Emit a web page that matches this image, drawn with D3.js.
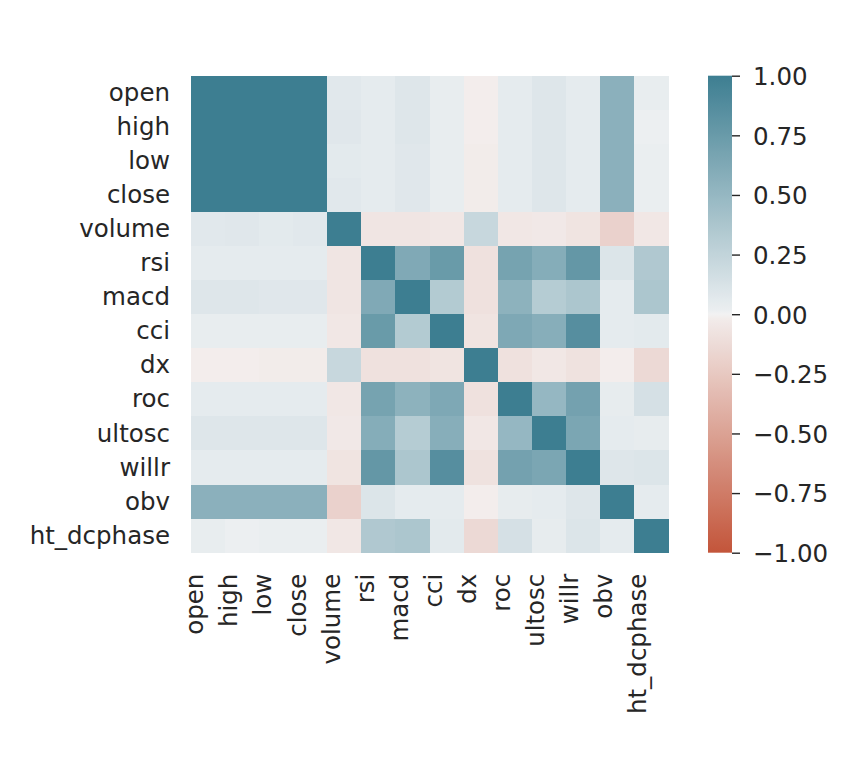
<!DOCTYPE html>
<html>
<head>
<meta charset="utf-8">
<script src="https://cdn.jsdelivr.net/npm/d3@7"></script>
<style>
body{margin:0;background:#fff;}
text{font-family:"DejaVu Sans",sans-serif;fill:#262626;}
</style>
</head>
<body>
<div id="heatmap"></div>
<script>
const labels = ["open","high","low","close","volume","rsi","macd","cci","dx","roc","ultosc","willr","obv","ht_dcphase"];

// correlation matrix, one row per label
const corr = [
[1.00,1.00,1.00,1.00,0.07,0.05,0.09,0.03,-0.01,0.05,0.09,0.05,0.56,0.03],
[1.00,1.00,1.00,1.00,0.08,0.05,0.09,0.03,-0.01,0.05,0.09,0.05,0.56,0.01],
[1.00,1.00,1.00,1.00,0.06,0.05,0.08,0.03,-0.02,0.05,0.09,0.05,0.56,0.02],
[1.00,1.00,1.00,1.00,0.07,0.05,0.08,0.03,-0.02,0.05,0.09,0.05,0.56,0.02],
[0.07,0.08,0.06,0.07,1.00,-0.06,-0.06,-0.05,0.22,-0.05,-0.04,-0.07,-0.19,-0.05],
[0.05,0.05,0.05,0.05,-0.06,1.00,0.62,0.75,-0.09,0.68,0.59,0.78,0.10,0.35],
[0.09,0.09,0.08,0.08,-0.06,0.62,1.00,0.33,-0.09,0.55,0.32,0.37,0.05,0.37],
[0.03,0.03,0.03,0.03,-0.05,0.75,0.33,1.00,-0.07,0.63,0.58,0.86,0.05,0.06],
[-0.01,-0.01,-0.02,-0.02,0.22,-0.09,-0.09,-0.07,1.00,-0.09,-0.05,-0.08,-0.01,-0.14],
[0.05,0.05,0.05,0.05,-0.05,0.68,0.55,0.63,-0.09,1.00,0.50,0.69,0.04,0.14],
[0.09,0.09,0.09,0.09,-0.04,0.59,0.32,0.58,-0.05,0.50,1.00,0.65,0.05,0.04],
[0.05,0.05,0.05,0.05,-0.07,0.78,0.37,0.86,-0.08,0.69,0.65,1.00,0.09,0.10],
[0.56,0.56,0.56,0.56,-0.19,0.10,0.05,0.05,-0.01,0.04,0.05,0.09,1.00,0.05],
[0.03,0.01,0.02,0.02,-0.05,0.35,0.37,0.06,-0.14,0.14,0.04,0.10,0.05,1.00]
];

const cbarTicks = [1.00,0.75,0.50,0.25,0.00,-0.25,-0.50,-0.75,-1.00];

const width=858, height=758;
const marginLeft=191, marginTop=75.7, size=477;

const svg = d3.select("#heatmap")
.append("svg")
.attr("width",width)
.attr("height",height);

// diverging colour scale (teal positive, red negative)
const color = d3.scaleLinear()
.domain([-1,-0.004,0,0.004,1])
.range(["#c3553a","#f3eeed","#f2f2f2","#edf0f2","#3d7e91"])
.interpolate(d3.interpolateRgb)
.clamp(true);

const x = d3.scaleBand()
.domain(labels)
.range([marginLeft,marginLeft+size]);

const y = d3.scaleBand()
.domain(labels)
.range([marginTop,marginTop+size]);

const cells=[];
corr.forEach((row,i)=>{
row.forEach((v,j)=>{
cells.push({r:labels[i],c:labels[j],v});
});
});

// CELDAS
svg.append("g")
.attr("shape-rendering","crispEdges")
.selectAll("rect")
.data(cells)
.enter()
.append("rect")
.attr("x",d=>x(d.c))
.attr("y",d=>y(d.r))
.attr("width",x.bandwidth()+0.5)
.attr("height",y.bandwidth()+0.5)
.attr("fill",d=>color(d.v));

// ETIQUETAS Y
svg.append("g")
.selectAll("text")
.data(labels)
.enter()
.append("text")
.attr("x",marginLeft-21)
.attr("y",d=>y(d)+y.bandwidth()/2)
.attr("dy","0.33em")
.attr("text-anchor","end")
.style("font-size","24.5px")
.text(d=>d);

// ETIQUETAS X
svg.append("g")
.selectAll("text")
.data(labels)
.enter()
.append("text")
.attr("transform",d=>`translate(${x(d)+x.bandwidth()/2},${marginTop+size+21}) rotate(-90)`)
.attr("dy",-4.7)
.attr("text-anchor","end")
.style("font-size","24.5px")
.text(d=>d);

// BARRA DE COLOR
const cbX=708, cbW=24;
const cy = d3.scaleLinear()
.domain([-1,1])
.range([marginTop+size,marginTop]);

const grad = svg.append("defs")
.append("linearGradient")
.attr("id","cbar")
.attr("x1","0").attr("y1","1")
.attr("x2","0").attr("y2","0");

grad.selectAll("stop")
.data(d3.range(0,1.0001,0.01))
.enter()
.append("stop")
.attr("offset",d=>d)
.attr("stop-color",d=>color(d*2-1));

svg.append("rect")
.attr("x",cbX)
.attr("y",marginTop)
.attr("width",cbW)
.attr("height",size)
.attr("fill","url(#cbar)");

const axis = svg.append("g")
.attr("transform",`translate(${cbX+cbW},0)`)
.call(
d3.axisRight(cy)
.tickValues(cbarTicks)
.tickSize(8)
.tickPadding(13)
.tickFormat(d=>d3.format(".2f")(d).replace("-","\u2212"))
);

axis.select(".domain").remove();
axis.selectAll("line")
.attr("stroke","#262626")
.attr("stroke-width",1.4);
axis.selectAll("text")
.attr("font-family","DejaVu Sans")
.attr("fill","#262626")
.style("font-size","24.5px")
.attr("dy","0.36em");
</script>
</body>
</html>
